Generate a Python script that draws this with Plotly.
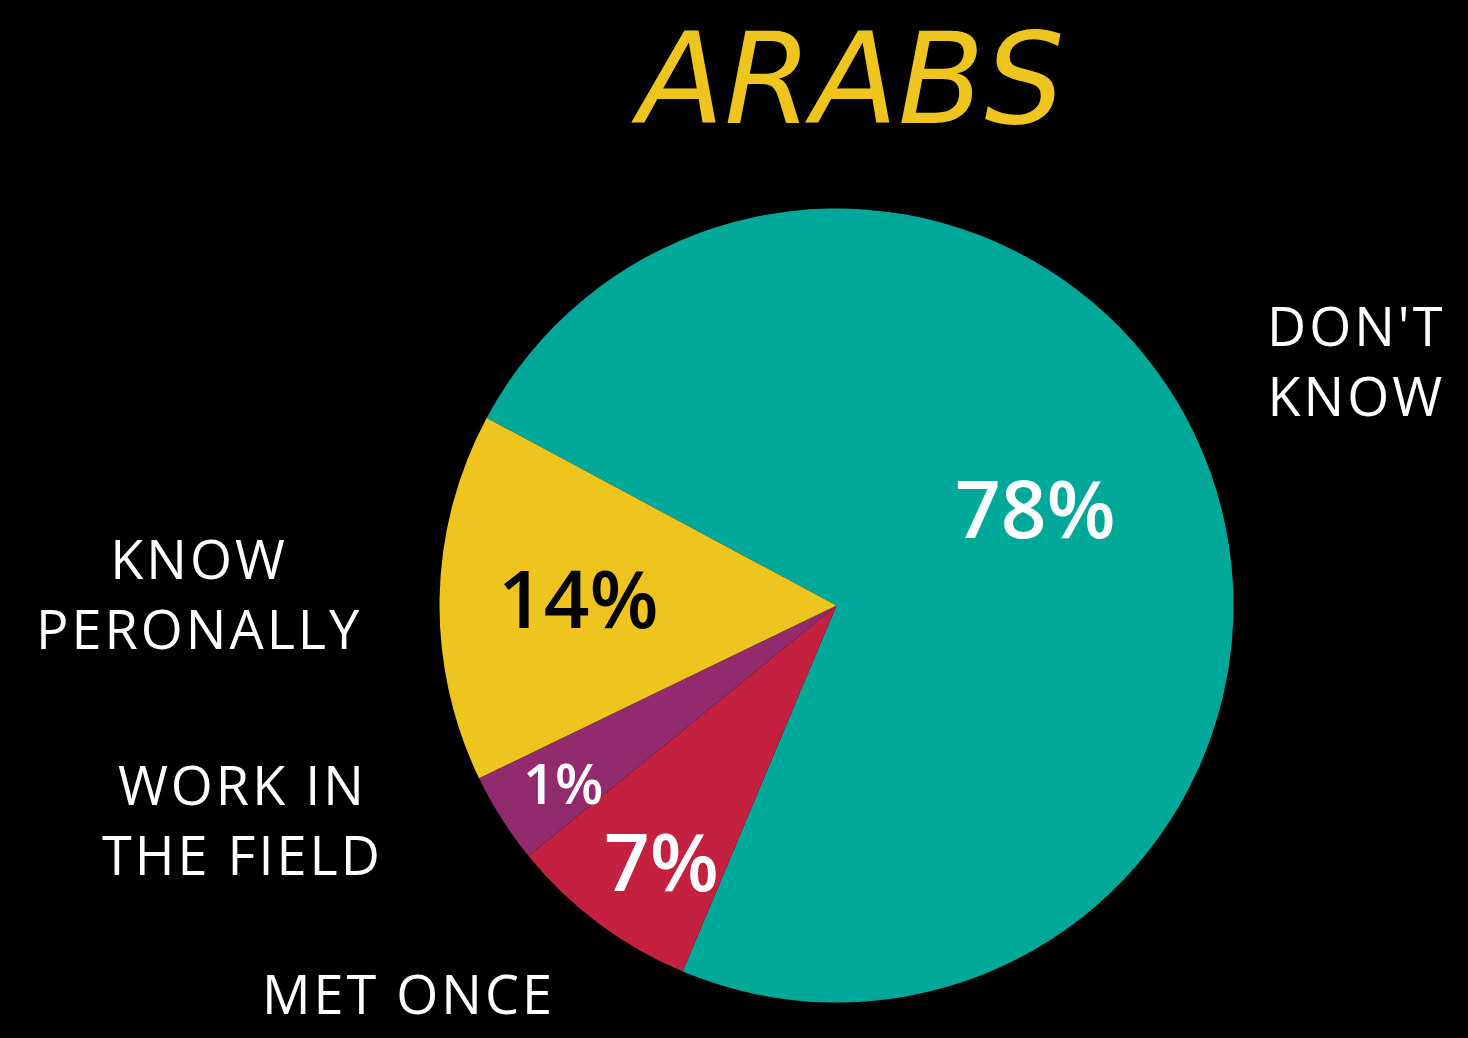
import plotly.graph_objects as go

# ---- data ----
categories = ["DON'T KNOW", "MET ONCE", "WORK IN THE FIELD", "KNOW PERONALLY"]
slice_share = [73.5, 7.8, 3.7, 15.0]          # slice sizes as drawn in the picture
pct_labels = ["78%", "7%", "1%", "14%"]        # printed percentages
label_lines = [["DON'T", "KNOW"], ["MET ONCE"], ["WORK IN", "THE FIELD"], ["KNOW", "PERONALLY"]]
colors = ["#00A89A", "#C42140", "#922A6E", "#EDC51E"]
title_text = "ARABS"

W, H = 1468, 1038

def px(x):
    return x / W

def py(y):
    return 1 - y / H

fig = go.Figure()
fig.add_trace(go.Pie(
    labels=categories,
    values=slice_share,
    sort=False,
    direction="clockwise",
    rotation=298.2,
    marker=dict(colors=colors, line=dict(width=0)),
    textinfo="none",
    hoverinfo="label+value",
    showlegend=False,
    domain=dict(x=[px(439.5), px(1233.5)], y=[py(1003), py(208)]),
))

annotations = []
FONT = "Open Sans"

# percentage labels inside slices
pct_pos = [(1035, 506), (661, 859), (563, 782), (578, 596)]
pct_size = [80, 80, 56, 80]
pct_color = ["white", "white", "white", "black"]
for lab, (x, y), s, c in zip(pct_labels, pct_pos, pct_size, pct_color):
    annotations.append(dict(
        x=px(x), y=py(y), xref="paper", yref="paper", text=lab, showarrow=False,
        xanchor="center", yanchor="middle",
        font=dict(family=FONT, size=s, color=c, weight=600)))

# outer category labels
outer_pos = [(1356, 360), (408, 993), (242, 819), (199, 593)]
for lines, (x, y) in zip(label_lines, outer_pos):
    txt = "<br>".join('<span style="letter-spacing:3px">%s</span>' % l for l in lines)
    annotations.append(dict(
        x=px(x), y=py(y), xref="paper", yref="paper", text=txt, showarrow=False,
        xanchor="center", yanchor="middle", align="center",
        font=dict(family=FONT, size=54, color="white", weight=400)))

# title
annotations.append(dict(
    x=px(847), y=py(79), xref="paper", yref="paper", text=title_text, showarrow=False,
    xanchor="center", yanchor="middle",
    font=dict(family="DejaVu Sans", size=126, color="#EDC51E", style="italic")))

fig.update_layout(
    width=W, height=H,
    paper_bgcolor="black", plot_bgcolor="black",
    margin=dict(l=0, r=0, t=0, b=0),
    annotations=annotations,
)

fig.write_html(
    "out.html",
    config={"displayModeBar": False},
    post_script="document.body.style.margin='0';document.body.style.background='black';",
)
